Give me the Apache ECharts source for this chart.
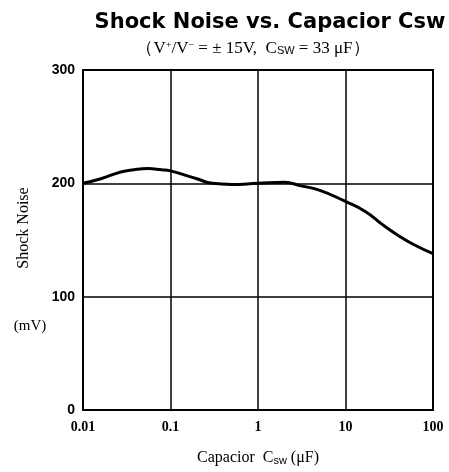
<!DOCTYPE html>
<html>
<head>
<meta charset="utf-8">
<script src="https://cdn.jsdelivr.net/npm/echarts@6/dist/echarts.min.js"></script>
<style>html,body{margin:0;padding:0;background:#fff}#c{width:449px;height:472px}</style>
</head>
<body>
<div id="c"></div>
<script>
var capacitance = [0.01, 0.016, 0.027, 0.038, 0.055, 0.079, 0.1, 0.2, 0.3, 0.5, 1, 2, 3, 5, 10, 17, 26, 40, 60, 100];
var shockNoise  = [200, 204, 210, 212, 213, 212, 211, 204, 200, 199, 200, 201, 198, 194, 184, 175, 164, 154, 146, 138];
var xTickLabels = {0.01: '0.01', 0.1: '0.1', 1: '1', 10: '10', 100: '100'};
var yTickValues = [0, 100, 200, 300];

var chart = echarts.init(document.getElementById('c'));
var serif = '"Liberation Serif", "DejaVu Serif", serif';
var sans = '"Liberation Sans", Arial, sans-serif';
chart.setOption({
  animation: false,
  backgroundColor: '#fff',
  title: [{
    text: 'Shock Noise vs. Capacior Csw',
    left: 265, top: 7, textAlign: 'center',
    textStyle: {fontFamily: '"DejaVu Sans", sans-serif', fontWeight: 'bold', fontSize: 21, color: '#000'}
  }, {
    text: '（V{sup|+}/V{sup|−} = ± 15V,  C{sub|SW} = 33 μF）',
    left: 248, top: 35, textAlign: 'center',
    textStyle: {fontFamily: serif, fontWeight: 'normal', fontSize: 17, color: '#000',
      rich: {sup: {fontSize: 10, fontWeight: 'normal', verticalAlign: 'top', padding: [0,0,7,0], fontFamily: serif},
             sub: {fontSize: 11, fontWeight: 'normal', fontFamily: sans, padding: [5,0,0,0]}}}
  }],
  grid: {left: 83, right: 16, top: 70, bottom: 62, show: true, borderColor: '#000', borderWidth: 2},
  xAxis: {
    type: 'log', logBase: 10, min: 0.01, max: 100,
    name: 'Capacior  C{sub|sw} (μF)', nameLocation: 'middle', nameGap: 40,
    nameTextStyle: {fontFamily: serif, fontSize: 16, color: '#000',
      rich: {sub: {fontSize: 11, fontFamily: sans, padding: [5,0,0,0], color: '#000'}}},
    axisLine: {lineStyle: {color: '#000', width: 2}},
    axisTick: {show: false},
    minorTick: {show: false},
    splitLine: {show: true, lineStyle: {color: '#000', width: 1.5}},
    axisLabel: {fontFamily: serif, fontWeight: 'bold', fontSize: 14, color: '#000', margin: 10,
      formatter: function (v) { var k = +v.toPrecision(3); return xTickLabels[k] || ''; }}
  },
  yAxis: {
    type: 'value', min: 0, max: 300, interval: 100,
    axisLine: {show: true, lineStyle: {color: '#000', width: 2}},
    axisTick: {show: false},
    splitLine: {show: true, lineStyle: {color: '#000', width: 1.5}},
    axisLabel: {fontFamily: sans, fontWeight: 'bold', fontSize: 14, color: '#000', margin: 8,
      formatter: function (v) { return yTickValues.indexOf(v) >= 0 ? String(v) : ''; }}
  },
  graphic: [{
    type: 'text', x: 24, y: 228, rotation: Math.PI / 2,
    style: {text: 'Shock Noise', font: '16px ' + serif, fill: '#000', align: 'center', verticalAlign: 'middle'}
  }, {
    type: 'text', x: 30, y: 326,
    style: {text: '(mV)', font: '15px ' + serif, fill: '#000', align: 'center', verticalAlign: 'middle'}
  }],
  series: [{
    type: 'line', smooth: 0.5, showSymbol: false,
    data: capacitance.map(function (c, i) { return [c, shockNoise[i]]; }),
    lineStyle: {color: '#000', width: 3}
  }]
});
</script>
</body>
</html>
